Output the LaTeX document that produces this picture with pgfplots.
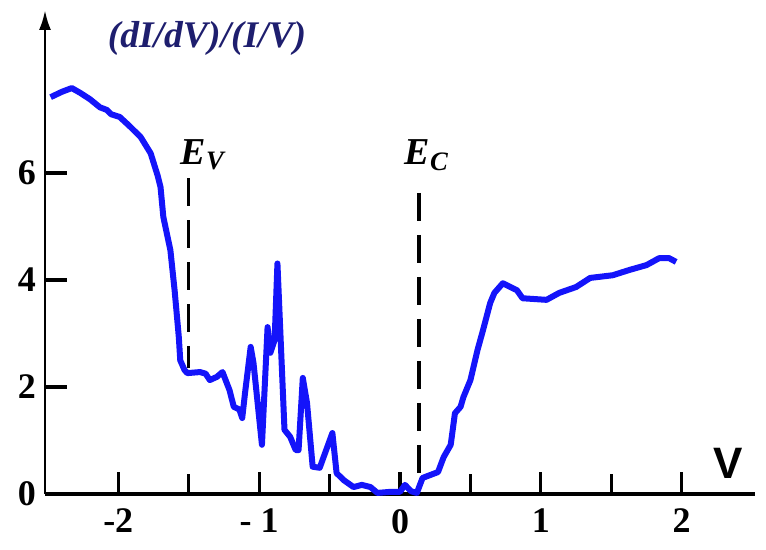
\documentclass[border=0pt]{standalone}
\usepackage{pgfplots}
\pgfplotsset{compat=1.18}
\usetikzlibrary{arrows.meta}
\usepackage{fontspec}
\setmainfont{Liberation Serif}
\newfontfamily\sansf{Liberation Sans}
\definecolor{curve}{RGB}{20,20,250}
\definecolor{navy}{RGB}{30,30,110}
\begin{document}
\begin{tikzpicture}
\useasboundingbox (-22.5pt,-28pt) rectangle (360.5pt,247pt);
\begin{axis}[
  at={(0,0)}, anchor=south west,
  scale only axis, width=355pt, height=242pt,
  xmin=-2.52, xmax=2.52, ymin=0, ymax=9.05,
  axis x line*=bottom, axis y line*=left,
  x axis line style={-, line width=1.6pt},
  y axis line style={-{Latex[length=10pt,width=6pt]}, line width=1.4pt},
  xtick={-2,-1,0,1,2}, xticklabels={-2,- 1,0,1,2},
  minor xtick={-1.5,-0.5,0.5,1.5},
  ytick={0,2,4,6}, yticklabels={0,2,4,6},
  tick align=inside,
  major tick length=11pt, minor tick length=10pt,
  major tick style={black, line width=1.6pt},
  minor tick style={black, line width=1.6pt},
  x tick label style={font=\bfseries\fontsize{18}{18}\selectfont, yshift=-4pt},
  y tick label style={font=\bfseries\fontsize{18}{18}\selectfont, xshift=-1pt},
  clip=false,
]
\addplot[black, line width=1.8pt, dash pattern=on 14pt off 7pt] coordinates {(-1.5,5.9) (-1.5,2.35)};
\addplot[black, line width=1.8pt, dash pattern=on 14pt off 7pt] coordinates {(0.135,5.63) (0.135,0.05)};
\addplot[curve, line width=3pt, line join=round] coordinates {
(-2.48,7.42) (-2.40,7.52) (-2.33,7.59) (-2.27,7.50) (-2.20,7.38) (-2.13,7.23)
(-2.08,7.18) (-2.05,7.10) (-1.99,7.05) (-1.92,6.88) (-1.84,6.67) (-1.77,6.37)
(-1.72,5.95) (-1.70,5.74) (-1.68,5.18) (-1.63,4.56) (-1.60,3.81) (-1.57,2.93)
(-1.56,2.50) (-1.53,2.32) (-1.51,2.26) (-1.42,2.28) (-1.38,2.25) (-1.35,2.13)
(-1.30,2.19) (-1.26,2.28) (-1.21,1.94) (-1.18,1.63) (-1.14,1.58) (-1.12,1.42)
(-1.10,1.89) (-1.06,2.75) (-1.04,2.45) (-0.98,0.92) (-0.94,3.12) (-0.92,2.64)
(-0.89,2.88) (-0.87,4.31) (-0.82,1.20) (-0.78,1.07) (-0.74,0.82) (-0.72,0.82)
(-0.69,2.17) (-0.66,1.70) (-0.62,0.51) (-0.57,0.49) (-0.48,1.14) (-0.45,0.39)
(-0.40,0.26) (-0.33,0.13) (-0.27,0.17) (-0.21,0.13) (-0.16,0.02) (-0.07,0.04)
(0.00,0.04) (0.035,0.17) (0.08,0.05) (0.12,0.02) (0.16,0.30) (0.27,0.41)
(0.31,0.69) (0.36,0.92) (0.39,1.51) (0.43,1.63) (0.45,1.81) (0.50,2.13)
(0.55,2.69) (0.59,3.07) (0.64,3.57) (0.67,3.76) (0.73,3.94) (0.83,3.81)
(0.87,3.66) (1.04,3.63) (1.13,3.76) (1.25,3.87) (1.35,4.04) (1.51,4.09)
(1.63,4.19) (1.75,4.28) (1.84,4.41) (1.91,4.41) (1.96,4.34)
};
\node[font=\sansf\bfseries\fontsize{22}{22}\selectfont] at (axis cs:2.33,0.58) {V};
\node[font=\bfseries\itshape\fontsize{18.8}{18.8}\selectfont, text=navy] at (axis cs:-1.37,8.52) {(dI/dV)/(I/V)};
\node[font=\bfseries\itshape\fontsize{19}{19}\selectfont] at (axis cs:-1.40,6.34) {E\textsubscript{V}};
\node[font=\bfseries\itshape\fontsize{19}{19}\selectfont] at (axis cs:0.19,6.34) {E\textsubscript{C}};
\end{axis}
\end{tikzpicture}
\end{document}
